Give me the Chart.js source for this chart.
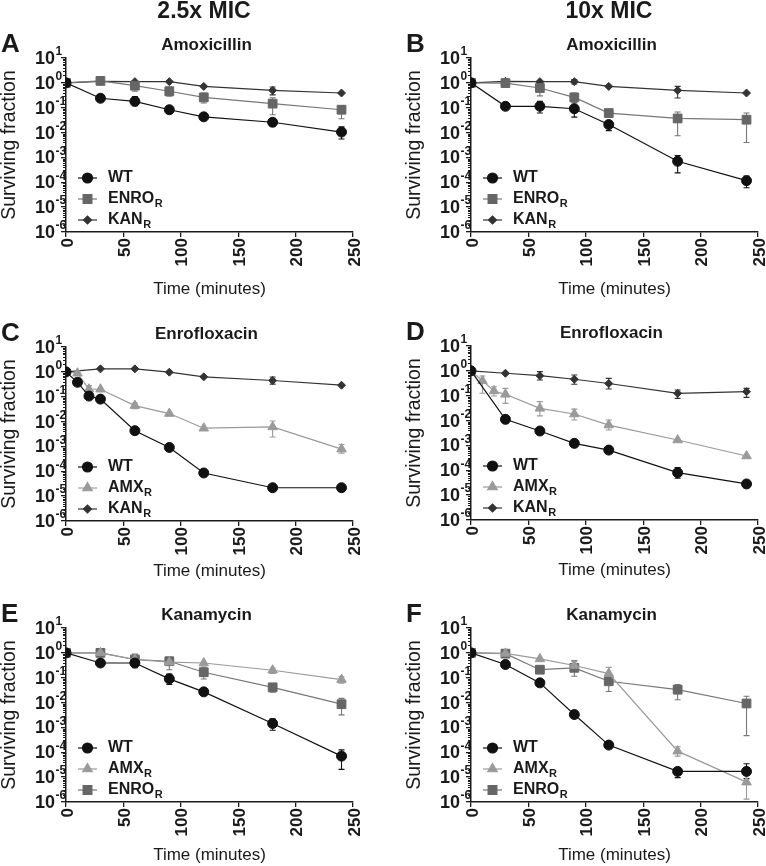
<!DOCTYPE html>
<html>
<head>
<meta charset="utf-8">
<script src="https://cdn.jsdelivr.net/npm/chart.js@4.4.0/dist/chart.umd.min.js"></script>
<style>
html, body { margin: 0; padding: 0; background: #fff; overflow: hidden; }
body { width: 766px; height: 866px; position: relative; }
canvas { position: absolute; }
.xlab {
    position: absolute;
    font: bold 17px "Liberation Sans", Arial, Helvetica, sans-serif;
    line-height: 17px;
    color: #1a1a1a;
    white-space: nowrap;
    transform-origin: 0 0;
    transform: rotate(-90deg) translate(-100%, -50%);
}
</style>
</head>
<body>
<canvas id="cA" width="383" height="310" style="left:0px;top:0px"></canvas>
<canvas id="cB" width="361" height="310" style="left:405px;top:0px"></canvas>
<canvas id="cC" width="383" height="310" style="left:0px;top:289px"></canvas>
<canvas id="cD" width="361" height="310" style="left:405px;top:288px"></canvas>
<canvas id="cE" width="383" height="310" style="left:0px;top:570px"></canvas>
<canvas id="cF" width="361" height="310" style="left:405px;top:570px"></canvas>
<script>
// sampling times (minutes)
const timesStd = [0, 30, 60, 90, 120, 180, 240];
const timesEarly = [0, 10, 20, 30, 60, 90, 120, 180, 240];
const xTicks = [0, 50, 100, 150, 200, 250];
const yExponents = [-6, -5, -4, -3, -2, -1, 0, 1];

// A - amoxicillin 2.5x MIC
const amx25WT = [1.0, 0.24, 0.18, 0.083, 0.043, 0.026, 0.0105];
const amx25WTErr = [null, null, [0.12, 0.28], null, null, [0.018, 0.033], [0.0055, 0.017]];
const amx25ENRO = [1.0, 1.2, 0.77, 0.46, 0.26, 0.146, 0.083];
const amx25ENROErr = [null, null, [0.46, 1.2], [0.29, 0.68], [0.154, 0.39], [0.052, 0.25], [0.036, 0.12]];
const amx25KAN = [1.0, 1.15, 1.12, 1.12, 0.72, 0.5, 0.39];
const amx25KANErr = [null, null, null, null, null, [0.33, 0.68], null];

// B - amoxicillin 10x MIC
const amx10WT = [1.0, 0.114, 0.114, 0.091, 0.021, 0.0007, 0.000116];
const amx10WTErr = [null, null, [0.061, 0.18], [0.042, 0.17], [0.012, 0.028], [0.00024, 0.0012], [0.00006, 0.00018]];
const amx10ENRO = [1.0, 0.98, 0.62, 0.26, 0.061, 0.037, 0.033];
const amx10ENROErr = [null, null, [0.3, 0.95], [0.154, 0.39], [0.045, 0.08], [0.0075, 0.067], [0.004, 0.061]];
const amx10KAN = [1.0, 1.15, 1.12, 1.12, 0.72, 0.5, 0.39];
const amx10KANErr = [null, null, null, [0.9, 1.35], null, [0.245, 0.72], null];

// C - enrofloxacin 2.5x MIC
const enr25WT = [1.0, 0.38, 0.106, 0.08, 0.0043, 0.00091, 0.0000855, 0.0000218, 0.0000218];
const enr25WTErr = [null, null, null, null, null, null, null, [0.000017, 0.000028], [0.000017, 0.000028]];
const enr25AMX = [1.0, 0.88, 0.2, 0.2, 0.044, 0.021, 0.0054, 0.0061, 0.00078];
const enr25AMXErr = [null, null, [0.14, 0.28], null, [0.033, 0.056], null, null, [0.0024, 0.0105], [0.00053, 0.0012]];
const enr25KAN = [1.0, 1.32, 1.32, 0.97, 0.63, 0.45, 0.29];
const enr25KANErr = [null, null, null, null, null, [0.32, 0.62], null];

// D - enrofloxacin 10x MIC
const enr10WT = [1.0, 0.0112, 0.0038, 0.00121, 0.00065, 0.00008, 0.0000282];
const enr10WTErr = [null, null, null, null, null, [0.000048, 0.00013], [0.00002, 0.000039]];
const enr10AMX = [1.0, 0.4, 0.155, 0.114, 0.031, 0.0184, 0.0066, 0.00165, 0.000376];
const enr10AMXErr = [null, [0.125, 0.62], [0.098, 0.23], [0.049, 0.198], [0.0155, 0.058], [0.0105, 0.029], [0.0042, 0.0105], null, null];
const enr10KAN = [1.0, 0.8, 0.64, 0.46, 0.31, 0.125, 0.146];
const enr10KANErr = [null, null, [0.43, 0.93], [0.29, 0.68], [0.186, 0.5], [0.078, 0.17], [0.086, 0.198]];

// E - kanamycin 2.5x MIC
const kan25WT = [1.0, 0.39, 0.39, 0.09, 0.027, 0.00144, 0.00007];
const kan25WTErr = [null, null, [0.25, 0.53], [0.053, 0.14], null, [0.00077, 0.0022], [0.0000206, 0.000125]];
const kan25AMX = [1.0, 1.0, 0.54, 0.42, 0.39, 0.2, 0.084];
const kan25AMXErr = [null, null, [0.3, 0.85], null, null, [0.15, 0.24], [0.06, 0.11]];
const kan25ENRO = [1.0, 1.0, 0.54, 0.46, 0.166, 0.041, 0.0086];
const kan25ENROErr = [null, null, [0.3, 0.9], [0.21, 0.66], [0.089, 0.27], [0.026, 0.058], [0.0032, 0.0148]];

// F - kanamycin 10x MIC
const kan10WT = [1.0, 0.34, 0.062, 0.0033, 0.000195, 0.000017, 0.000017];
const kan10WTErr = [null, null, null, null, null, [0.0000096, 0.000024], [0.0000087, 0.0000345]];
const kan10AMX = [1.0, 0.95, 0.57, 0.31, 0.147, 0.000111, 0.0000063];
const kan10AMXErr = [null, null, null, [0.22, 0.45], [0.08, 0.26], [0.00007, 0.000166], [0.0000013, 0.0000117]];
const kan10ENRO = [1.0, 0.93, 0.21, 0.25, 0.072, 0.033, 0.0092];
const kan10ENROErr = [null, null, null, [0.114, 0.49], [0.028, 0.114], [0.013, 0.053], [0.00047, 0.018]];

const FONT = '"Liberation Sans", Arial, Helvetica, sans-serif';
const INK = '#1a1a1a';

const strainStyle = {
    WT:   { label: 'WT',   sub: '',  color: '#111111', line: '#111111', shape: 'circle',   radius: 5 },
    ENRO: { label: 'ENRO', sub: 'R', color: '#666666', line: '#777777', shape: 'rect',     radius: 6.2 },
    KAN:  { label: 'KAN',  sub: 'R', color: '#333333', line: '#333333', shape: 'rectRot',  radius: 4 },
    AMX:  { label: 'AMX',  sub: 'R', color: '#9a9a9a', line: '#9a9a9a', shape: 'triangle', radius: 5.5 }
};

const panels = [
    { canvas: 'cA', letter: 'A', header: '2.5x MIC', title: 'Amoxicillin', xGap: 57,
      series: [['WT', timesStd, amx25WT, amx25WTErr], ['ENRO', timesStd, amx25ENRO, amx25ENROErr], ['KAN', timesStd, amx25KAN, amx25KANErr]] },
    { canvas: 'cB', letter: 'B', header: '10x MIC', title: 'Amoxicillin', xGap: 57,
      series: [['WT', timesStd, amx10WT, amx10WTErr], ['ENRO', timesStd, amx10ENRO, amx10ENROErr], ['KAN', timesStd, amx10KAN, amx10KANErr]] },
    { canvas: 'cC', letter: 'C', header: '', title: 'Enrofloxacin', xGap: 50,
      series: [['WT', timesEarly, enr25WT, enr25WTErr], ['AMX', timesEarly, enr25AMX, enr25AMXErr], ['KAN', timesStd, enr25KAN, enr25KANErr]] },
    { canvas: 'cD', letter: 'D', header: '', title: 'Enrofloxacin', xGap: 50,
      series: [['WT', timesStd, enr10WT, enr10WTErr], ['AMX', timesEarly, enr10AMX, enr10AMXErr], ['KAN', timesStd, enr10KAN, enr10KANErr]] },
    { canvas: 'cE', letter: 'E', header: '', title: 'Kanamycin', xGap: 53,
      series: [['WT', timesStd, kan25WT, kan25WTErr], ['AMX', timesStd, kan25AMX, kan25AMXErr], ['ENRO', timesStd, kan25ENRO, kan25ENROErr]] },
    { canvas: 'cF', letter: 'F', header: '', title: 'Kanamycin', xGap: 53,
      series: [['WT', timesStd, kan10WT, kan10WTErr], ['AMX', timesStd, kan10AMX, kan10AMXErr], ['ENRO', timesStd, kan10ENRO, kan10ENROErr]] }
];

const legendRows = [-54, -33, -12];

// vertical time labels as page text, placed from the x scale
function placeTimeLabels(chart) {
    if (chart.$timeLabels) return;
    chart.$timeLabels = true;
    const canvas = chart.canvas;
    const xs = chart.scales.x;
    const top = canvas.offsetTop + chart.chartArea.bottom + 6;
    xTicks.forEach(v => {
        const span = document.createElement('span');
        span.className = 'xlab';
        span.textContent = String(v);
        span.style.left = (canvas.offsetLeft + xs.getPixelForValue(v) + 0.5) + 'px';
        span.style.top = top + 'px';
        document.body.appendChild(span);
    });
}

const decoPlugin = {
    id: 'deco',
    beforeDatasetsDraw(chart) {
        const ctx = chart.ctx;
        const xs = chart.scales.x, ys = chart.scales.y;
        ctx.save();
        chart.data.datasets.forEach(ds => {
            ctx.strokeStyle = ds.borderColor;
            ctx.lineWidth = 1.1;
            ds.errBars.forEach((e, j) => {
                if (!e) return;
                const x = xs.getPixelForValue(ds.data[j].x);
                const y1 = ys.getPixelForValue(e[0]);
                const y2 = ys.getPixelForValue(e[1]);
                ctx.beginPath();
                ctx.moveTo(x, y1); ctx.lineTo(x, y2);
                ctx.moveTo(x - 3, y1); ctx.lineTo(x + 3, y1);
                ctx.moveTo(x - 3, y2); ctx.lineTo(x + 3, y2);
                ctx.stroke();
            });
        });
        ctx.restore();
    },
    afterDraw(chart, args, opts) {
        const ctx = chart.ctx;
        const area = chart.chartArea;
        const ys = chart.scales.y;
        ctx.save();
        ctx.fillStyle = INK;
        ctx.strokeStyle = INK;

        // panel letter, column header, panel title
        ctx.textBaseline = 'middle';
        ctx.textAlign = 'left';
        ctx.font = 'bold 26px ' + FONT;
        ctx.fillText(opts.letter, 1, area.top - 13);
        ctx.textAlign = 'center';
        if (opts.header) {
            ctx.font = 'bold 23px ' + FONT;
            ctx.fillText(opts.header, 204, 12);
        }
        ctx.font = 'bold 17px ' + FONT;
        ctx.fillText(opts.title, (area.left + area.right) / 2 - 3, area.top - 13);

        // log tick labels with superscript exponents
        yExponents.forEach(p => {
            const y = ys.getPixelForValue(Math.pow(10, p));
            ctx.textAlign = 'right';
            ctx.font = 'bold 18px ' + FONT;
            ctx.fillText('10', area.left - 11, y + 1);
            ctx.textAlign = 'left';
            ctx.font = 'bold 12px ' + FONT;
            ctx.fillText(String(p), area.left - 10.5, y - 6);
        });

        // minor log ticks
        ctx.lineWidth = 1;
        ctx.beginPath();
        for (let p = -6; p < 1; p++) {
            for (let k = 2; k < 10; k++) {
                const y = Math.round(ys.getPixelForValue(k * Math.pow(10, p))) + 0.5;
                ctx.moveTo(area.left - 3, y);
                ctx.lineTo(area.left, y);
            }
        }
        ctx.stroke();

        // legend
        chart.data.datasets.forEach((ds, i) => {
            const st = strainStyle[ds.strain];
            const y = area.bottom + legendRows[i];
            ctx.strokeStyle = ds.borderColor;
            ctx.lineWidth = 1.2;
            ctx.beginPath();
            ctx.moveTo(area.left + 12, y);
            ctx.lineTo(area.left + 31, y);
            ctx.stroke();
            ctx.fillStyle = st.color;
            ctx.strokeStyle = st.color;
            Chart.helpers.drawPoint(ctx, { pointStyle: st.shape, radius: st.radius, borderWidth: 1, rotation: 0 }, area.left + 21.5, y);
            ctx.fillStyle = INK;
            ctx.textAlign = 'left';
            ctx.textBaseline = 'middle';
            ctx.font = 'bold 16px ' + FONT;
            ctx.fillText(st.label, area.left + 42, y);
            if (st.sub) {
                const w = ctx.measureText(st.label).width;
                ctx.font = 'bold 11px ' + FONT;
                ctx.fillText(st.sub, area.left + 42 + w + 0.5, y + 5);
            }
        });
        ctx.restore();

        placeTimeLabels(chart);
    }
};

Chart.defaults.font.family = FONT;
Chart.defaults.color = INK;

panels.forEach(panel => {
    const canvas = document.getElementById(panel.canvas);
    const W = canvas.width, H = canvas.height;
    const datasets = panel.series.map(([strain, times, vals, errs]) => {
        const st = strainStyle[strain];
        return {
            strain: strain,
            data: times.map((t, i) => ({ x: t, y: vals[i] })),
            errBars: errs,
            showLine: true,
            borderColor: st.line,
            borderWidth: 1.2,
            pointStyle: st.shape,
            pointRadius: st.radius,
            pointBackgroundColor: st.color,
            pointBorderColor: st.color,
            pointBorderWidth: 1,
            tension: 0
        };
    });

    new Chart(canvas, {
        type: 'scatter',
        data: { datasets: datasets },
        options: {
            responsive: false,
            animation: false,
            events: [],
            layout: { padding: { top: 58, left: 0, right: W - 353, bottom: 0 } },
            plugins: {
                legend: { display: false },
                tooltip: { enabled: false },
                deco: { letter: panel.letter, header: panel.header, title: panel.title }
            },
            scales: {
                x: {
                    type: 'linear',
                    min: 0,
                    max: 250,
                    afterBuildTicks: s => { s.ticks = xTicks.map(v => ({ value: v })); },
                    afterFit: s => { s.height = H - 232; s.paddingLeft = 0; s.paddingRight = 0; },
                    ticks: { callback: () => '', padding: 0 },
                    grid: { drawOnChartArea: false, drawTicks: true, tickLength: 5, color: INK, lineWidth: 1.3 },
                    border: { display: true, color: INK, width: 1.5 },
                    title: {
                        display: true, text: 'Time (minutes)', color: INK,
                        font: { size: 17, lineHeight: 1 },
                        padding: { top: 0, bottom: H - 232 - panel.xGap - 8.5 }
                    }
                },
                y: {
                    type: 'logarithmic',
                    min: 1e-6,
                    max: 10,
                    afterBuildTicks: s => { s.ticks = yExponents.map(p => ({ value: Math.pow(10, p) })); },
                    afterFit: s => { s.width = 66; },
                    ticks: { callback: () => '', padding: 0 },
                    grid: { drawOnChartArea: false, drawTicks: true, tickLength: 5, color: INK, lineWidth: 1.3 },
                    border: { display: true, color: INK, width: 1.5 },
                    title: {
                        display: true, text: 'Surviving fraction', color: INK,
                        font: { size: 19.5, lineHeight: 1 },
                        padding: { top: 0, bottom: 0 }
                    }
                }
            }
        },
        plugins: [decoPlugin]
    });
});
</script>
</body>
</html>
